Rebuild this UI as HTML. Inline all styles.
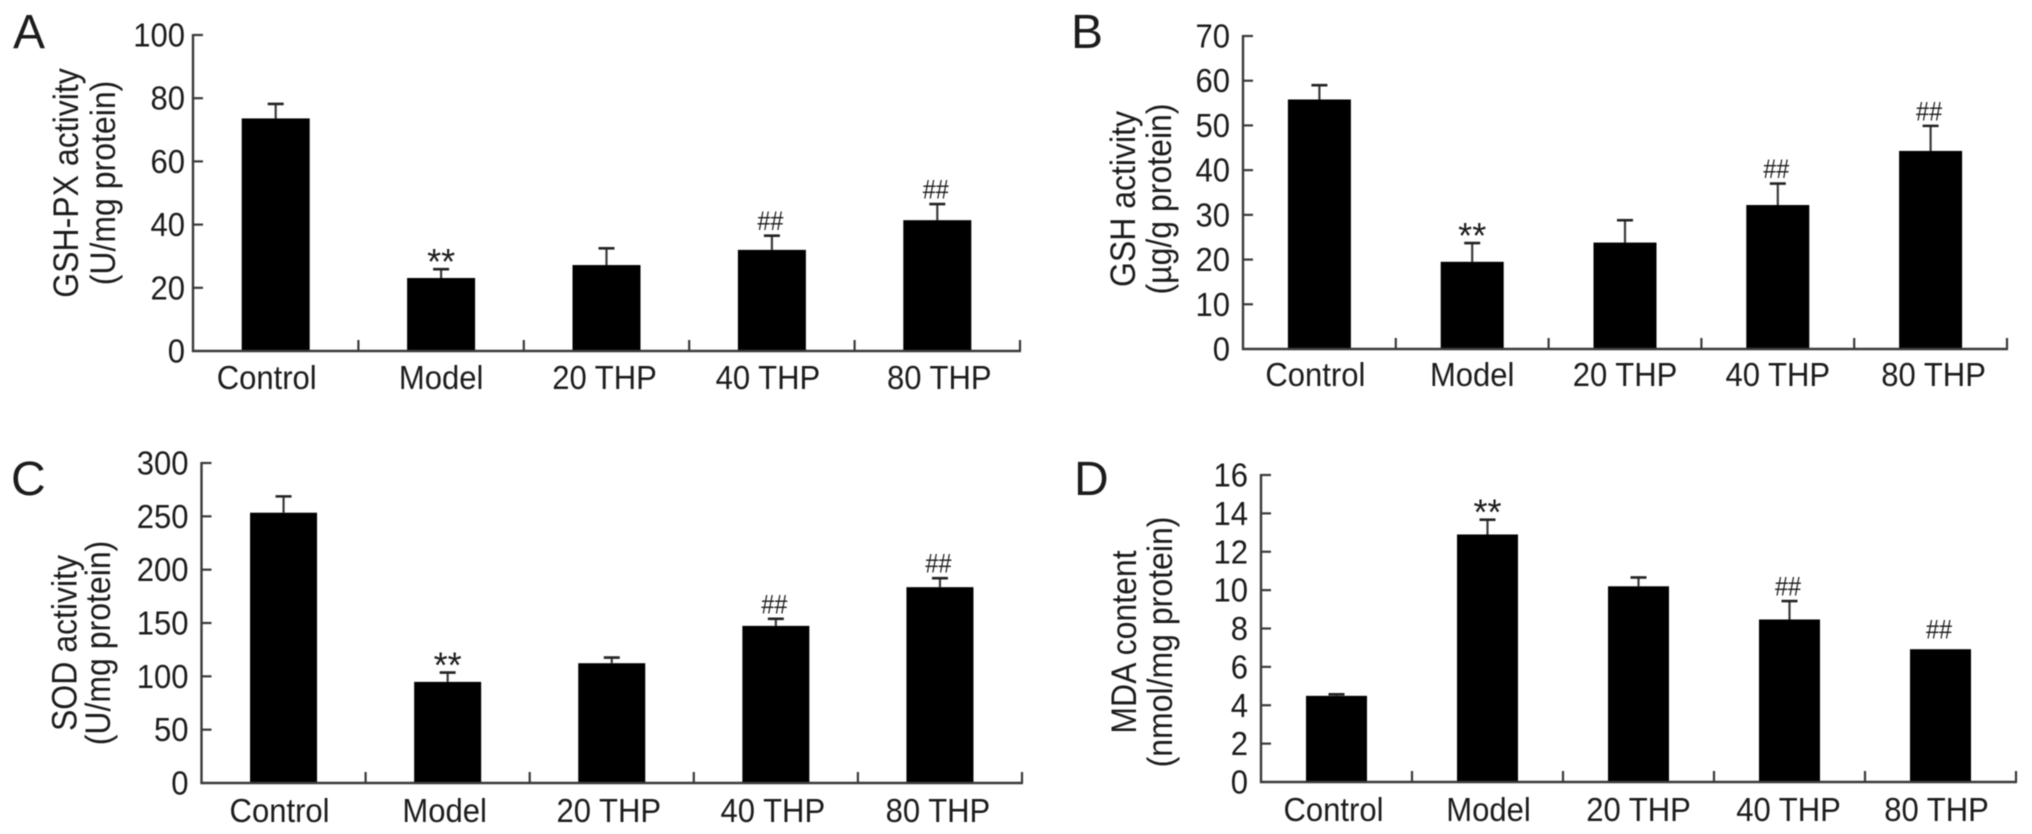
<!DOCTYPE html>
<html lang="en">
<head>
<meta charset="utf-8">
<title>Antioxidant markers by treatment group</title>
<style>
html,body{margin:0;padding:0;background:#fff;width:2032px;height:834px;overflow:hidden}
svg{display:block;filter:blur(0.6px)}
text{font-family:"Liberation Sans",Arial,sans-serif;fill:#1c1c1c}
</style>
</head>
<body>
<svg id="figure" xmlns="http://www.w3.org/2000/svg" width="2032" height="834" viewBox="0 0 2032 834"></svg>
<script>
// ---- data ----
const categories = ['Control', 'Model', '20 THP', '40 THP', '80 THP'];
const significance = ['', '**', '', '##', '##'];

const gshPxValues = [73.6, 23.1, 27.2, 32, 41.4];
const gshPxErrorTops = [78.2, 25.9, 32.5, 36.5, 46.5];
const gshPxTicks = [0, 20, 40, 60, 80, 100];

const gshValues = [55.8, 19.5, 23.8, 32.2, 44.3];
const gshErrorTops = [59, 23.7, 28.8, 37, 49.9];
const gshTicks = [0, 10, 20, 30, 40, 50, 60, 70];

const sodValues = [253.4, 94.8, 112.3, 147.3, 183.6];
const sodErrorTops = [268.7, 103.5, 117.6, 153.9, 192];
const sodTicks = [0, 50, 100, 150, 200, 250, 300];

const mdaValues = [4.49, 12.9, 10.2, 8.47, 6.92];
const mdaErrorTops = [4.57, 13.67, 10.66, 9.43, 6.92];
const mdaTicks = [0, 2, 4, 6, 8, 10, 12, 14, 16];
const mdaSignificance = ['', '**', '', '##', '##'];

// ---- layout (separate from the data) ----
const panels = [
  {id:'a', letter:'A', letterX:13, letterY:48, values:gshPxValues, errs:gshPxErrorTops, ticks:gshPxTicks, sig:significance,
   left:193, right:1020, top:35, bottom:351, barW:68, tickGap:8, labelDy:38, labelShift:[-9,0,-2,-4,2],
   title:'GSH-PX activity', sub:'(U/mg protein)', titleX:78, subX:115, titleY:183},
  {id:'b', letter:'B', letterX:1071, letterY:48, values:gshValues, errs:gshErrorTops, ticks:gshTicks, sig:significance,
   left:1243, right:2007, top:36, bottom:349, barW:63, tickGap:13, labelDy:37, labelShift:[-4,0,0,0,3],
   title:'GSH activity', sub:'(\u00b5g/g protein)', titleX:1135, subX:1171, titleY:199},
  {id:'c', letter:'C', letterX:11, letterY:495, values:sodValues, errs:sodErrorTops, ticks:sodTicks, sig:significance,
   left:201.5, right:1022, top:463, bottom:783, barW:67, tickGap:13, labelDy:39, labelShift:[-4,-3,-3,-3,-2],
   title:'SOD activity', sub:'(U/mg protein)', titleX:76.5, subX:110, titleY:643},
  {id:'d', letter:'D', letterX:1074, letterY:495, values:mdaValues, errs:mdaErrorTops, ticks:mdaTicks, sig:mdaSignificance,
   left:1261, right:2016, top:475, bottom:782, barW:61, tickGap:13, labelDy:39, labelShift:[-3,1,0,-1,-4],
   title:'MDA content', sub:'(nmol/mg protein)', titleX:1136, subX:1172, titleY:642}
];

const SVG_NS = 'http://www.w3.org/2000/svg';
const svg = document.getElementById('figure');
const AXIS = '#3a3a3a';

function yScale(p, v) {
  const maxV = p.ticks[p.ticks.length - 1];
  return p.bottom - (v / maxV) * (p.bottom - p.top);
}
function bandWidth(p) {
  return (p.right - p.left) / categories.length;
}
function xCenter(p, i) {
  return p.left + (i + 0.5) * bandWidth(p);
}
function make(tag, attrs, parent) {
  const n = document.createElementNS(SVG_NS, tag);
  for (const k in attrs) n.setAttribute(k, attrs[k]);
  parent.appendChild(n);
  return n;
}
// Text in the reference is narrower than Liberation at its height
function squeezed(x, y, squeeze, rotated) {
  return 'translate(' + x + ' ' + y + ')' + (rotated ? ' rotate(-90)' : '') + ' scale(' + squeeze + ' 1)';
}

panels.forEach(function (p) {
  const g = make('g', {}, svg);
  
  

  const letter = make('text', {x:p.letterX, y:p.letterY, 'font-size':48}, g);
  letter.textContent = p.letter;
  
  

  // bars and error bars
  p.values.forEach(function (v, i) {
    const cx = xCenter(p, i);
    const errY = yScale(p, p.errs[i]);
    const barY = yScale(p, v);

    if (p.errs[i] > v) {
      const stem = make('line', {x1:cx, x2:cx, y1:errY, y2:barY, stroke:AXIS, 'stroke-width':2.2}, g);
      
      

      const cap = make('line', {x1:cx - 8, x2:cx + 8, y1:errY, y2:errY, stroke:'#222', 'stroke-width':2.6}, g);
      
      
    }

    const bar = make('rect', {x:cx - p.barW / 2, y:barY, width:p.barW, height:p.bottom - barY, fill:'#000'}, g);
    
    

    if (p.sig[i]) {
      const isStar = p.sig[i] === '**';
      const gap = p.errs[i] > v ? 15 : 20;
      const centerY = errY - gap;
      const mark = make('text', {
        transform:squeezed(cx - (isStar ? 0 : 1.5), centerY + (isStar ? 20 : 9.5), isStar ? 1 : 0.87, false),
        'text-anchor':'middle',
        'font-size':isStar ? 36 : 27
      }, g);
      mark.textContent = p.sig[i];
      
      
    }
  });

  // axes
  const yAxis = make('line', {x1:p.left, x2:p.left, y1:p.top - 1, y2:p.bottom + 1, stroke:AXIS, 'stroke-width':2.4}, g);
  
  

  const xAxis = make('line', {x1:p.left - 1, x2:p.right + 1, y1:p.bottom, y2:p.bottom, stroke:AXIS, 'stroke-width':2.4}, g);
  
  

  // y ticks and labels
  p.ticks.forEach(function (t) {
    const y = yScale(p, t);
    if (t !== 0) {
      const tick = make('line', {x1:p.left, x2:p.left + 10, y1:y, y2:y, stroke:AXIS, 'stroke-width':2.2}, g);
      
      
    }
    const label = make('text', {
      transform:squeezed(p.left - p.tickGap, y + 11.5, 0.94, false),
      'text-anchor':'end',
      'font-size':33
    }, g);
    label.textContent = String(t);
    
    
  });

  // x ticks (between categories) and labels
  categories.forEach(function (c, i) {
    const tx = p.left + (i + 1) * bandWidth(p);
    const tick = make('line', {x1:tx, x2:tx, y1:p.bottom, y2:p.bottom - 11, stroke:AXIS, 'stroke-width':2.2}, g);
    
    

    const label = make('text', {
      transform:squeezed(xCenter(p, i) + p.labelShift[i], p.bottom + p.labelDy, 0.94, false),
      'text-anchor':'middle',
      'font-size':33
    }, g);
    label.textContent = c;
    
    
  });

  // axis titles
  const title = make('text', {
    transform:squeezed(p.titleX, p.titleY, 0.915, true),
    'text-anchor':'middle',
    'font-size':35
  }, g);
  title.textContent = p.title;
  
  

  const sub = make('text', {
    transform:squeezed(p.subX, p.titleY, 0.915, true),
    'text-anchor':'middle',
    'font-size':35
  }, g);
  sub.textContent = p.sub;
  
  
});
</script>
</body>
</html>
